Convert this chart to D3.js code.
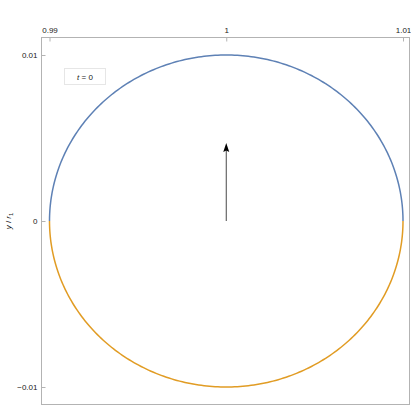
<!DOCTYPE html>
<html><head><meta charset="utf-8">
<script src="https://cdn.jsdelivr.net/npm/d3@7"></script>
<style>body{margin:0;background:#fff}svg{display:block}text{font-family:"Liberation Sans",Arial,sans-serif}</style>
</head><body>
<svg id="c" width="411" height="411"></svg>
<script>
// Data
const xTicks = [0.99, 1, 1.01];
const xTickLabels = ["0.99", "1", "1.01"];
const yTicks = [0.01, 0, -0.01];
const yTickLabels = ["0.01", "0", "\u22120.01"];
const center = [1, 0];
const radius = 0.01;
const arrowFrom = [1, 0];
const arrowTo = [1, 0.0047];
const legendText = "t = 0";
const seriesColors = ["#5e81b5", "#e19c24"];

const svg = d3.select("#c");
const L = 41.5, R = 409.5, T = 37.5, B = 404.5;
const x = d3.scaleLinear().domain([0.99, 1.01]).range([49.5, 403]);
const y = d3.scaleLinear().domain([-0.01, 0.01]).range([387, 55]);

// frame
svg.append("rect").attr("x", L).attr("y", T).attr("width", R - L).attr("height", B - T)
  .attr("fill", "none").attr("stroke", "#b3b3b3").attr("stroke-width", 1);

// top axis
const gx = svg.append("g").attr("transform", `translate(0,${T})`)
  .call(d3.axisTop(x).tickValues(xTicks).tickFormat((d, i) => xTickLabels[i]).tickSize(-4).tickPadding(6));
gx.select(".domain").remove();
gx.selectAll("line").attr("stroke", "#b3b3b3");
gx.selectAll("text").attr("font-size", 8).attr("fill", "#222").attr("dy", "0em").attr("y", -5);

// left axis
const gy = svg.append("g").attr("transform", `translate(${L},0)`)
  .call(d3.axisLeft(y).tickValues(yTicks).tickFormat((d, i) => yTickLabels[i]).tickSize(-4).tickPadding(4));
gy.select(".domain").remove();
gy.selectAll("line").attr("stroke", "#b3b3b3");
gy.selectAll("text").attr("font-size", 8).attr("fill", "#222").attr("x", -4);

// y label
const yl = svg.append("text").attr("transform", "translate(11,221) rotate(-90)")
  .attr("text-anchor", "middle").attr("font-size", 8).attr("fill", "#222");
yl.append("tspan").attr("font-style", "italic").text("y");
yl.append("tspan").text(" / ");
yl.append("tspan").attr("font-style", "italic").text("r");
yl.append("tspan").attr("font-size", 6).attr("dy", 2).text("1");

// circle halves
const N = 200;
const upper = d3.range(N + 1).map(i => { const a = Math.PI * i / N; return [center[0] + radius * Math.cos(a), center[1] + radius * Math.sin(a)]; });
const lower = d3.range(N + 1).map(i => { const a = Math.PI + Math.PI * i / N; return [center[0] + radius * Math.cos(a), center[1] + radius * Math.sin(a)]; });
const line = d3.line().x(d => x(d[0])).y(d => y(d[1]));
svg.append("path").attr("d", line(upper)).attr("fill", "none").attr("stroke", seriesColors[0]).attr("stroke-width", 1.5);
svg.append("path").attr("d", line(lower)).attr("fill", "none").attr("stroke", seriesColors[1]).attr("stroke-width", 1.5);

// arrow
const ax0 = x(arrowFrom[0]), ay0 = y(arrowFrom[1]), ax1 = x(arrowTo[0]), ay1 = y(arrowTo[1]);
svg.append("line").attr("x1", ax0).attr("y1", ay0).attr("x2", ax1).attr("y2", ay1 + 6)
  .attr("stroke", "#333").attr("stroke-width", 0.9);
svg.append("path").attr("d", `M${ax1},${ay1} L${ax1 - 3},${ay1 + 9} L${ax1},${ay1 + 7.5} L${ax1 + 3},${ay1 + 9} Z`).attr("fill", "#000");

// legend
svg.append("rect").attr("x", 64.5).attr("y", 68.5).attr("width", 41).attr("height", 16)
  .attr("fill", "#fff").attr("stroke", "#e6e6e6").attr("stroke-width", 1);
const lt = svg.append("text").attr("x", 85).attr("y", 79.5).attr("text-anchor", "middle").attr("font-size", 8).attr("fill", "#222");
lt.append("tspan").attr("font-style", "italic").text("t");
lt.append("tspan").text(" = 0");
</script>
</body></html>
